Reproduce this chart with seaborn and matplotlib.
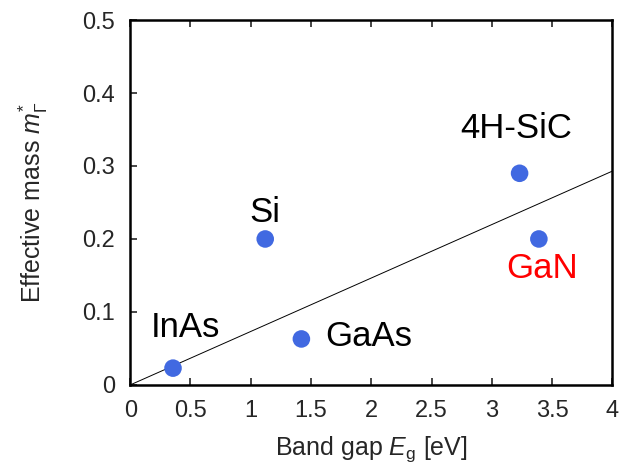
import numpy as np
import pandas as pd
import matplotlib
matplotlib.use('Agg')
import matplotlib.pyplot as plt
import seaborn as sns

# data
materials = ['InAs', 'Si', 'GaAs', '4H-SiC', 'GaN']
band_gap = [0.355, 1.12, 1.42, 3.23, 3.39]
eff_mass = [0.023, 0.200, 0.063, 0.290, 0.200]
fit_x = [0, 4]
fit_y = [0, 0.293]

# label placement (data coords) and colours
label_x = [0.46, 1.12, 1.98, 3.2, 3.42]
label_y = [0.079, 0.236, 0.066, 0.352, 0.16]
label_color = ['black', 'black', 'black', 'black', 'red']

sns.set_style('white')
plt.rcParams['font.family'] = ['Liberation Sans', 'DejaVu Sans']
plt.rcParams['mathtext.fontset'] = 'custom'
plt.rcParams['mathtext.it'] = 'Liberation Sans:italic'
plt.rcParams['mathtext.rm'] = 'Liberation Sans'

df = pd.DataFrame({'material': materials, 'Eg': band_gap, 'm': eff_mass})

fig, ax = plt.subplots(figsize=(6.23, 4.66), dpi=100)
fig.subplots_adjust(left=0.209, right=0.983, top=0.957, bottom=0.174)

sns.lineplot(x=fit_x, y=fit_y, ax=ax, color='black', linewidth=0.7)
sns.scatterplot(data=df, x='Eg', y='m', ax=ax, color='#4169E1', s=160,
                edgecolor='none', zorder=3)

for name, lx, ly, c in zip(materials, label_x, label_y, label_color):
    ax.text(lx, ly, name, fontsize=25, color=c, ha='center', va='center')

ax.set_xlim(0, 4)
ax.set_ylim(0, 0.5)
ax.set_xticks(np.arange(0, 4.01, 0.5))
ax.set_xticklabels(['0', '0.5', '1', '1.5', '2', '2.5', '3', '3.5', '4'])
ax.set_yticks(np.arange(0, 0.51, 0.1))
ax.set_yticklabels(['0', '0.1', '0.2', '0.3', '0.4', '0.5'])
ax.tick_params(direction='in', length=5, width=1.2, labelsize=17,
               top=True, right=False, bottom=True, left=True, pad=11)
for sp in ax.spines.values():
    sp.set_linewidth(1.8)
    sp.set_color('black')

ax.set_xlabel(r'Band gap $E_{\mathrm{g}}$ [eV]', fontsize=18, labelpad=9)
ax.set_ylabel(r'Effective mass $m_{\Gamma}^{*}$', fontsize=18, labelpad=23)

plt.savefig('out.png', dpi=100)
